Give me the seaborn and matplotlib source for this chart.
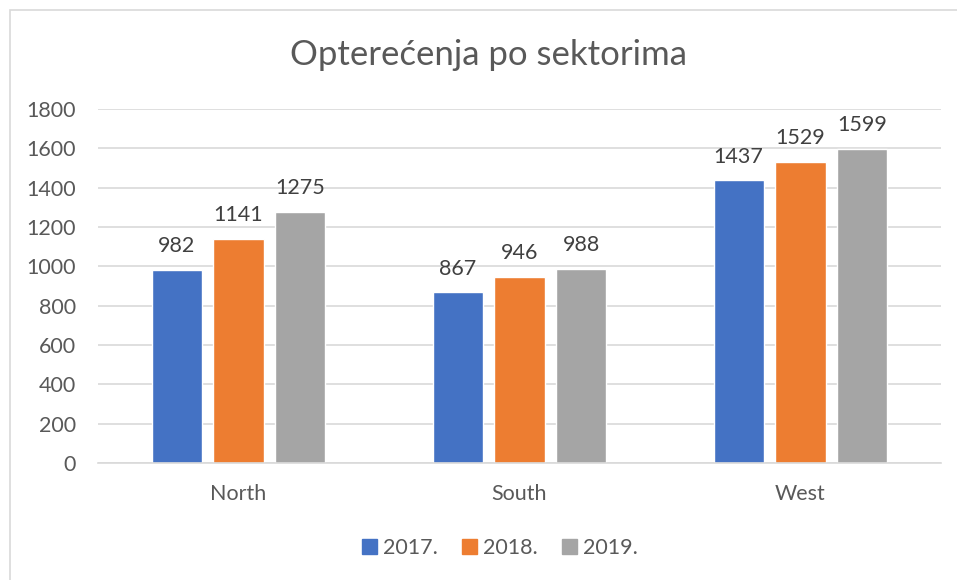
import pandas as pd
import seaborn as sns
import matplotlib.pyplot as plt
from matplotlib.patches import Rectangle

# podaci
sektori = ["North", "South", "West"]
godine = ["2017.", "2018.", "2019."]
v2017 = [982, 867, 1437]
v2018 = [1141, 946, 1529]
v2019 = [1275, 988, 1599]

tabela = pd.DataFrame({
    "Sektor": sektori * 3,
    "Godina": [godine[0]] * 3 + [godine[1]] * 3 + [godine[2]] * 3,
    "Vrijednost": v2017 + v2018 + v2019,
})

boje = ["#4472C4", "#ED7D31", "#A5A5A5"]
siva = "#595959"

sns.set_style("white")
plt.rcParams["font.family"] = ["Lato", "DejaVu Sans"]

fig = plt.figure(figsize=(9.57, 5.8), dpi=100)
ax = fig.add_axes([98 / 957, 1 - 463 / 580, (941 - 98) / 957, (463 - 109) / 580])

# okvir
fig.patches.append(Rectangle((10 / 957, -0.1), 1.2, 1 - 10 / 580 + 0.1, transform=fig.transFigure,
                             fill=False, edgecolor="#D9D9D9", linewidth=1.2, zorder=0))

sns.barplot(data=tabela, x="Sektor", y="Vrijednost", hue="Godina", palette=boje,
            width=0.66, gap=0.19, ax=ax, saturation=1, legend=False)

for c in ax.containers:
    ax.bar_label(c, padding=10, fontsize=15.5, color="#404040")

ax.set_ylim(0, 1800)
ax.set_xlim(-0.5, 2.5)
ax.set_yticks(range(0, 1801, 200))
ax.yaxis.grid(True, color="#D9D9D9", linewidth=1.2)
ax.set_axisbelow(True)
for s in ["top", "right", "left"]:
    ax.spines[s].set_visible(False)
ax.spines["bottom"].set_color("#D9D9D9")
ax.spines["bottom"].set_linewidth(1.2)
ax.tick_params(axis="y", labelsize=15.5, labelcolor=siva, length=0, pad=16)
ax.tick_params(axis="x", labelsize=15.5, labelcolor=siva, length=0, pad=15)
ax.set_xlabel("")
ax.set_ylabel("")

fig.text(489 / 957, 1 - 55 / 580, "Opterećenja po sektorima", ha="center", va="center",
         fontsize=25, color=siva)

# legenda
ruke = [Rectangle((0, 0), 1, 1, color=b) for b in boje]
fig.legend(ruke, godine, loc="center", bbox_to_anchor=(500 / 957, 1 - 548 / 580), ncol=3,
           frameon=False, fontsize=15.5, labelcolor=siva, handlelength=0.7, handleheight=0.7,
           handletextpad=0.3, columnspacing=1.1)

fig.savefig("out.png", dpi=100)
